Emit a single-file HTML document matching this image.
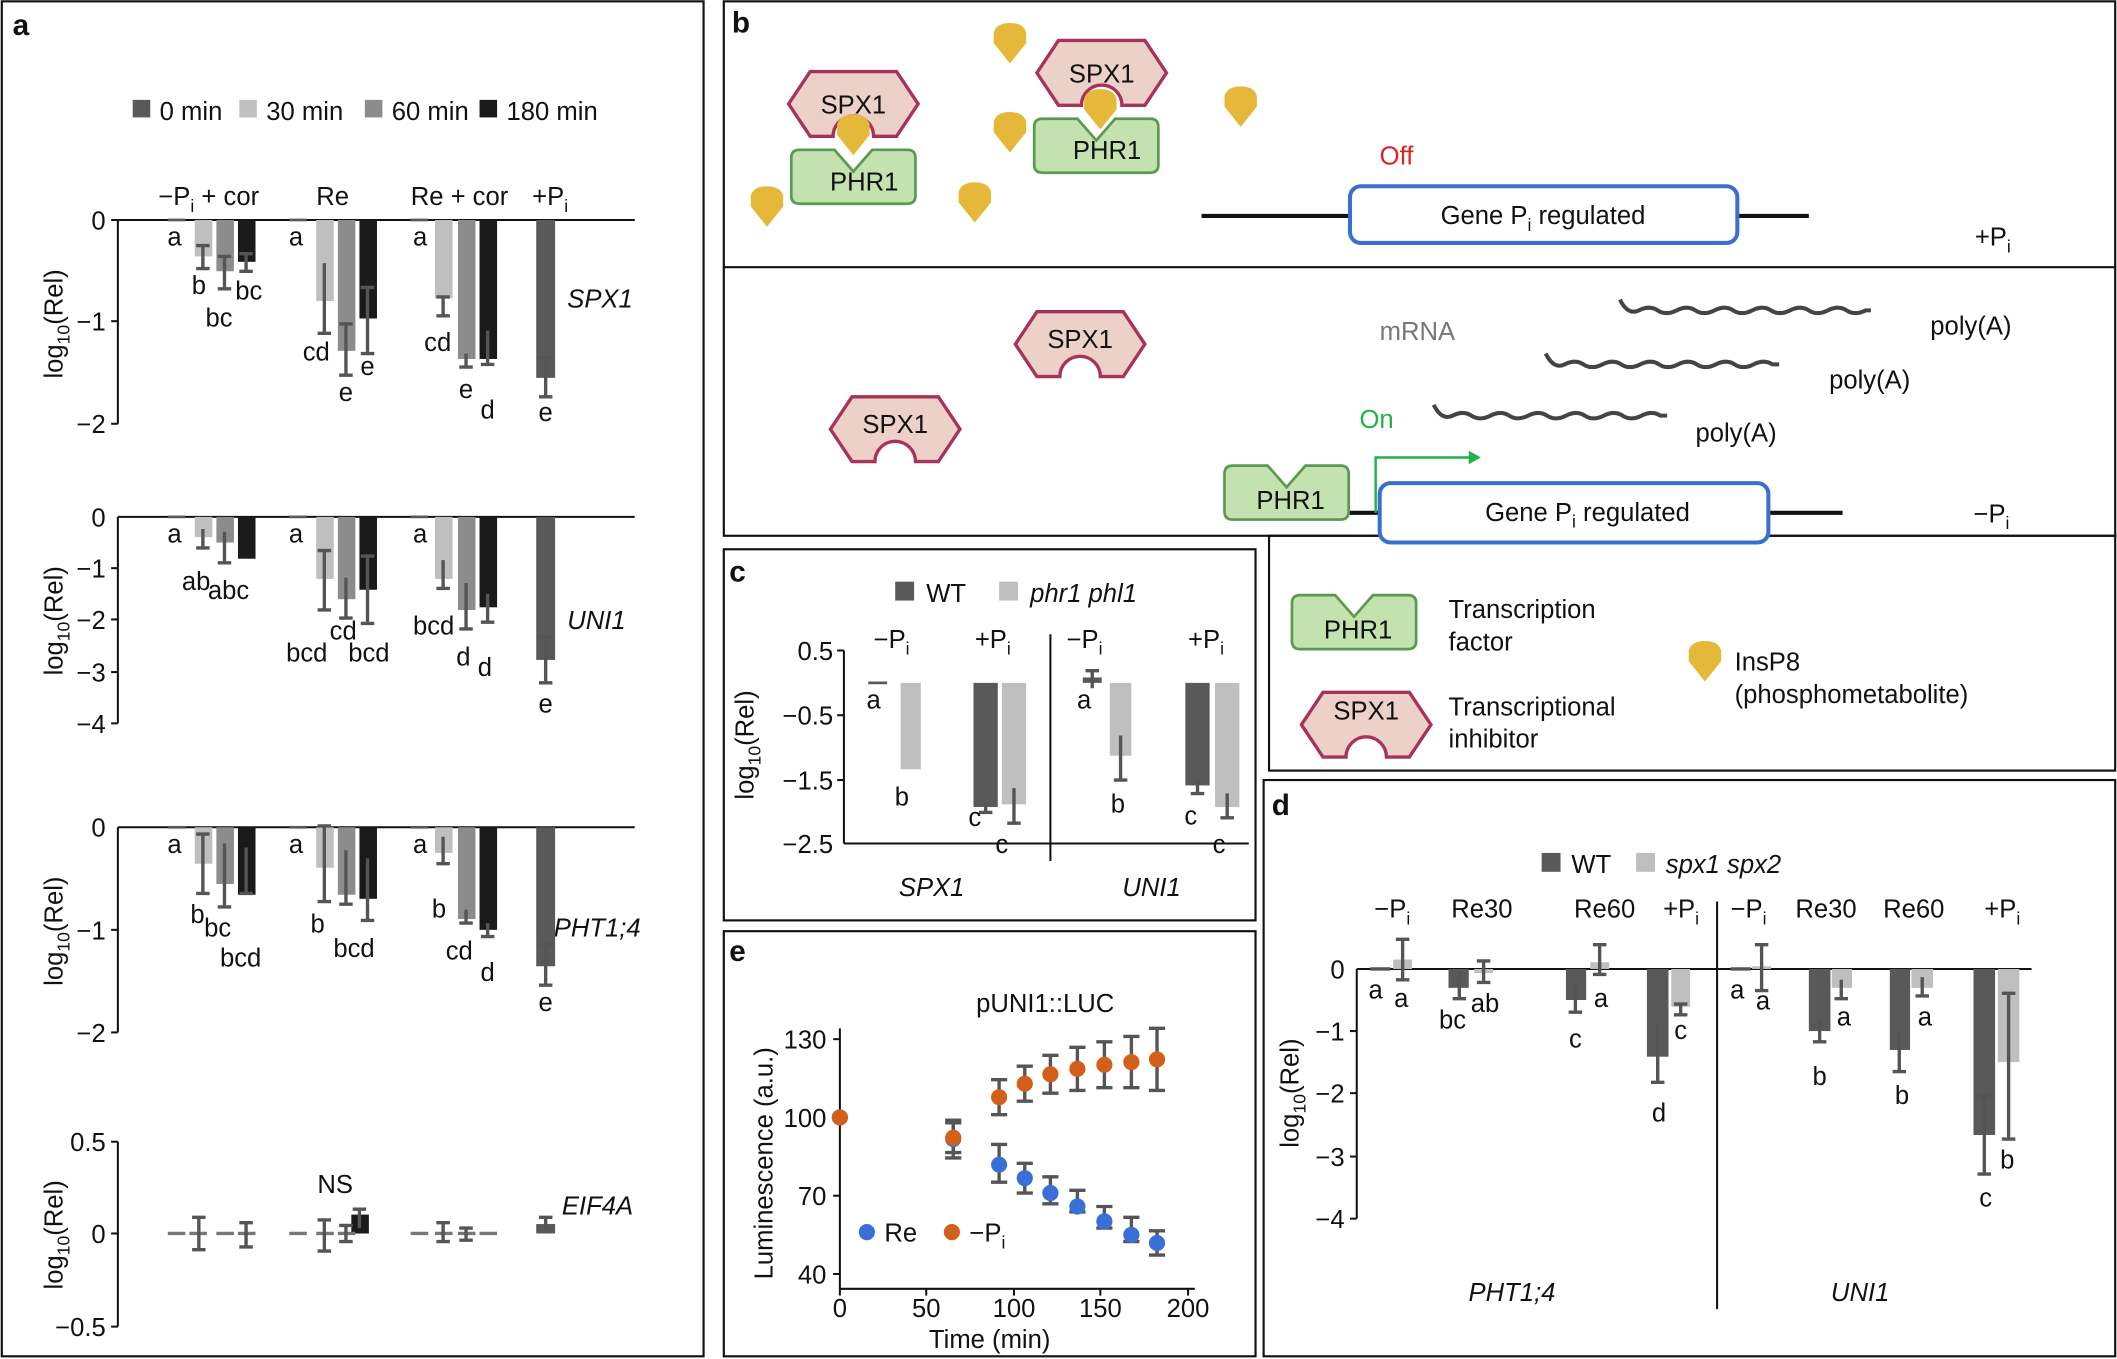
<!DOCTYPE html>
<html><head><meta charset="utf-8"><style>
html,body{margin:0;padding:0;background:#fff}
svg{display:block}
text{font-family:"Liberation Sans",Arial,sans-serif;font-size:19px;fill:#111}
.it{font-style:italic}
.b{font-weight:bold;font-size:22px}
.eb{stroke:#555;stroke-width:2.5;fill:none}
</style></head><body>
<svg width="2117" height="1359" viewBox="0 0 1568 1007" xmlns="http://www.w3.org/2000/svg">
<defs>
<path id="spx" d="M-48,0 L-32,-24 L32,-24 L48,0 L32,24 L15,24 A15,15 0 0 0 -15,24 L-32,24 Z" fill="#ebd1c7" stroke="#a8325a" stroke-width="2.5"/>
<path id="phr" d="M-46,-14 Q-46,-20 -40,-20 L-14,-20 L0,-4 L14,-20 L40,-20 Q46,-20 46,-14 L46,14 Q46,20 40,20 L-40,20 Q-46,20 -46,14 Z" fill="#c4e2b0" stroke="#5a9a50" stroke-width="2"/>
<path id="ins" d="M-12,-8 Q-10,-15 0,-15 Q10,-15 12,-8 L12,0 L0,15 L-12,0 Z" fill="#e6b83a"/>
</defs>
<g fill="none" stroke="#111" stroke-width="1.6">
<rect x="1" y="1" width="520" height="1004"/>
<rect x="536" y="1" width="1031" height="396"/>
<rect x="940" y="397" width="627" height="174"/>
<rect x="536" y="407" width="394" height="275"/>
<rect x="536" y="690" width="394" height="315"/>
<rect x="936" y="578" width="631" height="427"/>
</g>
<line x1="536" y1="198" x2="1567" y2="198" stroke="#111" stroke-width="1.6"/>
<!-- Panel a -->
<text x="9" y="26" class="b">a</text>
<rect x="98" y="74" width="13" height="13" fill="#595959"/><text x="118" y="89">0 min</text>
<rect x="177" y="74" width="13" height="13" fill="#bfbfbf"/><text x="197" y="89">30 min</text>
<rect x="270" y="74" width="13" height="13" fill="#8c8c8c"/><text x="290" y="89">60 min</text>
<rect x="355" y="74" width="13" height="13" fill="#1a1a1a"/><text x="375" y="89">180 min</text>
<text x="117" y="152">−P<tspan font-size="13" dy="5">i</tspan><tspan dy="-5"> + cor</tspan></text>
<text x="234" y="152">Re</text><text x="304" y="152">Re + cor</text>
<text x="394" y="152">+P<tspan font-size="13" dy="5">i</tspan></text>
<g stroke="#111" stroke-width="1.5">
<line x1="87" y1="163" x2="470" y2="163"/><line x1="87" y1="163" x2="87" y2="314"/>
<line x1="87" y1="383" x2="470" y2="383"/><line x1="87" y1="383" x2="87" y2="536"/>
<line x1="87" y1="613" x2="470" y2="613"/><line x1="87" y1="613" x2="87" y2="765"/>
<line x1="87" y1="846" x2="87" y2="983"/>
<line x1="82" y1="163" x2="87" y2="163"/><line x1="82" y1="238" x2="87" y2="238"/><line x1="82" y1="314" x2="87" y2="314"/>
<line x1="82" y1="421" x2="87" y2="421"/><line x1="82" y1="459" x2="87" y2="459"/><line x1="82" y1="498" x2="87" y2="498"/><line x1="82" y1="536" x2="87" y2="536"/>
<line x1="82" y1="689" x2="87" y2="689"/><line x1="82" y1="765" x2="87" y2="765"/>
<line x1="82" y1="846" x2="87" y2="846"/><line x1="82" y1="914" x2="87" y2="914"/><line x1="82" y1="983" x2="87" y2="983"/>
</g>
<g text-anchor="end">
<text x="78" y="170">0</text><text x="78" y="245">−1</text><text x="78" y="321">−2</text>
<text x="78" y="390">0</text><text x="78" y="428">−1</text><text x="78" y="466">−2</text><text x="78" y="505">−3</text><text x="78" y="543">−4</text>
<text x="78" y="620">0</text><text x="78" y="696">−1</text><text x="78" y="772">−2</text>
<text x="78" y="853">0.5</text><text x="78" y="921">0</text><text x="78" y="990">−0.5</text>
</g>
<text transform="translate(46,240) rotate(-90)" text-anchor="middle">log<tspan font-size="13" dy="5">10</tspan><tspan dy="-5">(Rel)</tspan></text>
<text transform="translate(46,460) rotate(-90)" text-anchor="middle">log<tspan font-size="13" dy="5">10</tspan><tspan dy="-5">(Rel)</tspan></text>
<text transform="translate(46,690) rotate(-90)" text-anchor="middle">log<tspan font-size="13" dy="5">10</tspan><tspan dy="-5">(Rel)</tspan></text>
<text transform="translate(46,915) rotate(-90)" text-anchor="middle">log<tspan font-size="13" dy="5">10</tspan><tspan dy="-5">(Rel)</tspan></text>
<text x="420" y="228" class="it">SPX1</text><text x="420" y="466" class="it">UNI1</text>
<text x="410" y="694" class="it">PHT1;4</text><text x="416" y="900" class="it">EIF4A</text>
<!-- SPX1 bars -->
<rect x="124" y="162" width="13" height="2" fill="#595959"/>
<rect x="144" y="163" width="13" height="27" fill="#bfbfbf"/><rect x="160" y="163" width="13" height="38" fill="#8c8c8c"/><rect x="176" y="163" width="13" height="31" fill="#1a1a1a"/>
<rect x="214" y="162" width="13" height="2" fill="#595959"/>
<rect x="234" y="163" width="13" height="60" fill="#bfbfbf"/><rect x="250" y="163" width="13" height="97" fill="#8c8c8c"/><rect x="266" y="163" width="13" height="73" fill="#1a1a1a"/>
<rect x="304" y="162" width="13" height="2" fill="#595959"/>
<rect x="322" y="163" width="13" height="58" fill="#bfbfbf"/><rect x="339" y="163" width="13" height="103" fill="#8c8c8c"/><rect x="355" y="163" width="13" height="103" fill="#1a1a1a"/>
<rect x="397" y="163" width="14" height="117" fill="#595959"/>
<path class="eb" d="M150,182V199M145,182h10M145,199h10 M166,190V214M161,190h10M161,214h10 M182,188V201M177,188h10M177,201h10 M240,195V247M235,247h10 M256,240V278M251,278h10M251,240h10 M272,213V262M267,262h10M267,213h10 M328,220V234M323,234h10M323,220h10 M345,262V272M340,272h10 M361,245V270M356,270h10 M404,265V294M399,294h10M399,265h10"/>
<g text-anchor="middle"><text x="129" y="182">a</text><text x="147" y="218">b</text><text x="162" y="242">bc</text><text x="184" y="222">bc</text>
<text x="219" y="182">a</text><text x="234" y="267">cd</text><text x="256" y="297">e</text><text x="272" y="278">e</text>
<text x="311" y="182">a</text><text x="324" y="260">cd</text><text x="345" y="295">e</text><text x="361" y="310">d</text><text x="404" y="312">e</text></g>
<!-- UNI1 bars -->
<rect x="124" y="382" width="13" height="2" fill="#595959"/>
<rect x="144" y="383" width="13" height="15" fill="#bfbfbf"/><rect x="160" y="383" width="13" height="19" fill="#8c8c8c"/><rect x="176" y="383" width="13" height="31" fill="#1a1a1a"/>
<rect x="214" y="382" width="13" height="2" fill="#595959"/>
<rect x="234" y="383" width="13" height="46" fill="#bfbfbf"/><rect x="250" y="383" width="13" height="61" fill="#8c8c8c"/><rect x="266" y="383" width="13" height="54" fill="#1a1a1a"/>
<rect x="304" y="382" width="13" height="2" fill="#595959"/>
<rect x="322" y="383" width="13" height="46" fill="#bfbfbf"/><rect x="339" y="383" width="13" height="69" fill="#8c8c8c"/><rect x="355" y="383" width="13" height="67" fill="#1a1a1a"/>
<rect x="397" y="383" width="14" height="106" fill="#595959"/>
<path class="eb" d="M150,392V406M145,406h10 M166,394V417M161,417h10 M240,408V452M235,452h10M235,408h10 M256,428V458M251,458h10 M272,412V462M267,462h10M267,412h10 M328,415V436M323,436h10 M345,432V466M340,466h10 M361,440V461M356,461h10 M404,472V506M399,506h10M399,472h10"/>
<g text-anchor="middle"><text x="129" y="402">a</text><text x="145" y="437">ab</text><text x="169" y="444">abc</text>
<text x="219" y="402">a</text><text x="227" y="490">bcd</text><text x="254" y="474">cd</text><text x="273" y="490">bcd</text>
<text x="311" y="402">a</text><text x="321" y="470">bcd</text><text x="343" y="493">d</text><text x="359" y="501">d</text><text x="404" y="528">e</text></g>
<!-- PHT1;4 bars -->
<rect x="124" y="612" width="13" height="2" fill="#595959"/>
<rect x="144" y="613" width="13" height="27" fill="#bfbfbf"/><rect x="160" y="613" width="13" height="42" fill="#8c8c8c"/><rect x="176" y="613" width="13" height="50" fill="#1a1a1a"/>
<rect x="214" y="612" width="13" height="2" fill="#595959"/>
<rect x="234" y="613" width="13" height="30" fill="#bfbfbf"/><rect x="250" y="613" width="13" height="50" fill="#8c8c8c"/><rect x="266" y="613" width="13" height="53" fill="#1a1a1a"/>
<rect x="304" y="612" width="13" height="2" fill="#595959"/>
<rect x="322" y="613" width="13" height="19" fill="#bfbfbf"/><rect x="339" y="613" width="13" height="68" fill="#8c8c8c"/><rect x="355" y="613" width="13" height="76" fill="#1a1a1a"/>
<rect x="397" y="613" width="14" height="103" fill="#595959"/>
<path class="eb" d="M150,618V662M145,662h10M145,618h10 M166,625V672M161,672h10 M182,628V662M177,662h10 M240,612V668M235,668h10M235,612h10 M256,630V670M251,670h10 M272,636V682M267,682h10 M328,620V640M323,640h10 M345,674V684M340,684h10 M361,684V694M356,694h10 M404,700V730M399,730h10M399,700h10"/>
<g text-anchor="middle"><text x="129" y="632">a</text><text x="146" y="684">b</text><text x="161" y="694">bc</text><text x="178" y="716">bcd</text>
<text x="219" y="632">a</text><text x="235" y="691">b</text><text x="262" y="709">bcd</text>
<text x="311" y="632">a</text><text x="325" y="680">b</text><text x="340" y="711">cd</text><text x="361" y="727">d</text><text x="404" y="749">e</text></g>
<!-- EIF4A -->
<text x="248" y="884" text-anchor="middle">NS</text>
<rect x="260" y="900" width="13" height="14" fill="#1a1a1a"/>
<rect x="397" y="907" width="14" height="7" fill="#595959"/>
<g stroke="#555" stroke-width="2.5">
<path d="M124,914h13 M140,914h13 M160,914h13 M176,914h13 M214,914h13 M234,914h13 M250,914h13 M304,914h13 M322,914h13 M339,914h13 M355,914h13" stroke="#777"/>
<path class="eb" d="M147,902V926M142,902h10M142,926h10 M182,906V924M177,906h10M177,924h10 M240,904V927M235,904h10M235,927h10 M256,908V920M251,908h10M251,920h10 M266,896V910M261,896h10 M328,906V920M323,906h10M323,920h10 M345,910V919M340,910h10M340,919h10 M404,902V912M399,902h10"/>
</g>
<!-- Panel b -->
<text x="542" y="24" class="b">b</text>
<use href="#spx" x="632" y="77"/><text x="632" y="84" text-anchor="middle">SPX1</text>
<use href="#phr" x="632" y="131"/><text x="640" y="141" text-anchor="middle">PHR1</text>
<use href="#ins" x="632" y="100"/>
<use href="#spx" x="816" y="54"/><text x="816" y="61" text-anchor="middle">SPX1</text>
<use href="#phr" x="812" y="108"/><text x="820" y="118" text-anchor="middle">PHR1</text>
<use href="#ins" x="815" y="81"/>
<use href="#ins" x="748" y="32"/><use href="#ins" x="748" y="98"/><use href="#ins" x="722" y="150"/><use href="#ins" x="568" y="153"/><use href="#ins" x="919" y="79"/>
<line x1="890" y1="160" x2="1340" y2="160" stroke="#111" stroke-width="3"/>
<rect x="1000" y="138" width="287" height="42" rx="8" fill="#fff" stroke="#3a6fd0" stroke-width="3"/>
<text x="1143" y="166" text-anchor="middle">Gene P<tspan font-size="13" dy="5">i</tspan><tspan dy="-5"> regulated</tspan></text>
<text x="1022" y="122" fill="#e02020" style="fill:#e02020">Off</text>
<text x="1463" y="182">+P<tspan font-size="13" dy="5">i</tspan></text>
<use href="#spx" x="800" y="255"/><text x="800" y="258" text-anchor="middle">SPX1</text>
<use href="#spx" x="663" y="318"/><text x="663" y="321" text-anchor="middle">SPX1</text>
<line x1="910" y1="380" x2="1365" y2="380" stroke="#111" stroke-width="3"/>
<use href="#phr" x="953" y="365"/><text x="956" y="377" text-anchor="middle">PHR1</text>
<rect x="1022" y="358" width="288" height="44" rx="8" fill="#fff" stroke="#3a6fd0" stroke-width="3"/>
<text x="1176" y="386" text-anchor="middle">Gene P<tspan font-size="13" dy="5">i</tspan><tspan dy="-5"> regulated</tspan></text>
<path d="M1019,380V339H1090" fill="none" stroke="#22b04a" stroke-width="1.8"/><path d="M1097,339l-9,-5v10z" fill="#22b04a"/>
<text x="1007" y="317" style="fill:#22b04a">On</text>
<text x="1022" y="252" style="fill:#777">mRNA</text>
<g fill="none" stroke="#444" stroke-width="3">
<path d="M1200,222 q6,12 14,8 t14,0 t14,0 t14,0 t14,0 t14,0 t14,0 t14,0 t14,0 t14,0 t14,0 t14,0 t14,0 h4"/>
<path d="M1145,262 q6,12 14,8 t14,0 t14,0 t14,0 t14,0 t14,0 t14,0 t14,0 t14,0 t14,0 t14,0 t14,0 h5"/>
<path d="M1062,300 q6,12 14,8 t14,0 t14,0 t14,0 t14,0 t14,0 t14,0 t14,0 t14,0 t14,0 t14,0 t14,0 h5"/>
</g>
<text x="1430" y="248">poly(A)</text><text x="1355" y="288">poly(A)</text><text x="1256" y="327">poly(A)</text>
<text x="1462" y="387">−P<tspan font-size="13" dy="5">i</tspan></text>
<use href="#phr" x="1003" y="461"/><text x="1006" y="473" text-anchor="middle">PHR1</text>
<text x="1073" y="458">Transcription</text><text x="1073" y="482">factor</text>
<use href="#spx" x="1012" y="537"/><text x="1012" y="533" text-anchor="middle">SPX1</text>
<text x="1073" y="530">Transcriptional</text><text x="1073" y="554">inhibitor</text>
<use href="#ins" x="1263" y="490"/>
<text x="1285" y="497">InsP8</text><text x="1285" y="521">(phosphometabolite)</text>
<!-- Panel c -->
<text x="540" y="431" class="b">c</text>
<rect x="663" y="431" width="14" height="14" fill="#595959"/><text x="686" y="446">WT</text>
<rect x="740" y="431" width="14" height="14" fill="#bfbfbf"/><text x="763" y="446" class="it">phr1 phl1</text>
<text x="647" y="480">−P<tspan font-size="13" dy="5">i</tspan></text><text x="722" y="480">+P<tspan font-size="13" dy="5">i</tspan></text>
<text x="790" y="480">−P<tspan font-size="13" dy="5">i</tspan></text><text x="880" y="480">+P<tspan font-size="13" dy="5">i</tspan></text>
<g stroke="#111" stroke-width="1.5"><line x1="625" y1="482" x2="625" y2="625"/><line x1="625" y1="625" x2="925" y2="625"/>
<line x1="620" y1="482" x2="625" y2="482"/><line x1="620" y1="530" x2="625" y2="530"/><line x1="620" y1="578" x2="625" y2="578"/>
<line x1="778" y1="470" x2="778" y2="638"/></g>
<g text-anchor="end"><text x="617" y="489">0.5</text><text x="617" y="537">−0.5</text><text x="617" y="585">−1.5</text><text x="617" y="632">−2.5</text></g>
<text transform="translate(558,552) rotate(-90)" text-anchor="middle">log<tspan font-size="13" dy="5">10</tspan><tspan dy="-5">(Rel)</tspan></text>
<rect x="643" y="505" width="14" height="2" fill="#595959"/>
<rect x="667" y="506" width="15" height="64" fill="#bfbfbf"/>
<rect x="721" y="506" width="18" height="92" fill="#595959"/><rect x="742" y="506" width="18" height="90" fill="#bfbfbf"/>
<rect x="802" y="502" width="14" height="4" fill="#595959"/><rect x="822" y="506" width="16" height="54" fill="#bfbfbf"/>
<rect x="878" y="506" width="18" height="76" fill="#595959"/><rect x="900" y="506" width="18" height="92" fill="#bfbfbf"/>
<path class="eb" d="M730,594V602M725,602h10 M751,584V610M746,610h10 M809,497V510M804,497h10 M830,545V578M825,578h10 M887,578V588M882,588h10 M909,588V606M904,606h10"/>
<g text-anchor="middle"><text x="647" y="525">a</text><text x="668" y="597">b</text><text x="722" y="612">c</text><text x="742" y="632">c</text>
<text x="803" y="525">a</text><text x="828" y="602">b</text><text x="882" y="611">c</text><text x="903" y="632">c</text></g>
<text x="690" y="664" class="it" text-anchor="middle">SPX1</text><text x="853" y="664" class="it" text-anchor="middle">UNI1</text>
<!-- Panel e -->
<text x="540" y="712" class="b">e</text>
<text x="723" y="750">pUNI1::LUC</text>
<g stroke="#111" stroke-width="1.5"><line x1="622" y1="762" x2="622" y2="955"/><line x1="622" y1="955" x2="885" y2="955"/>
<line x1="617" y1="770" x2="622" y2="770"/><line x1="617" y1="828" x2="622" y2="828"/><line x1="617" y1="886" x2="622" y2="886"/><line x1="617" y1="944" x2="622" y2="944"/>
<line x1="622" y1="955" x2="622" y2="960"/><line x1="686" y1="955" x2="686" y2="960"/><line x1="751" y1="955" x2="751" y2="960"/><line x1="815" y1="955" x2="815" y2="960"/><line x1="880" y1="955" x2="880" y2="960"/></g>
<g text-anchor="end"><text x="612" y="777">130</text><text x="612" y="835">100</text><text x="612" y="893">70</text><text x="612" y="951">40</text></g>
<g text-anchor="middle"><text x="622" y="976">0</text><text x="686" y="976">50</text><text x="751" y="976">100</text><text x="815" y="976">150</text><text x="880" y="976">200</text></g>
<text x="733" y="999" text-anchor="middle">Time (min)</text>
<text transform="translate(572,862) rotate(-90)" text-anchor="middle">Luminescence (a.u.)</text>
<path class="eb" d="M706,830V858M700,830h12M700,858h12 M740,848V876M734,848h12M734,876h12 M759,862V884M753,862h12M753,884h12 M778,872V892M772,872h12M772,892h12 M798,882V898M792,882h12M792,898h12 M818,894V910M812,894h12M812,910h12 M838,902V920M832,902h12M832,920h12 M857,912V930M851,912h12M851,930h12"/>
<path class="eb" d="M706,832V854M700,832h12M700,854h12 M740,800V826M734,800h12M734,826h12 M759,790V816M753,790h12M753,816h12 M778,782V810M772,782h12M772,810h12 M798,776V808M792,776h12M792,808h12 M818,772V806M812,772h12M812,806h12 M838,768V806M832,768h12M832,806h12 M857,762V808M851,762h12M851,808h12"/>
<g fill="#3a6fd8"><circle cx="622" cy="828" r="6"/><circle cx="706" cy="844" r="6"/><circle cx="740" cy="863" r="6"/><circle cx="759" cy="873" r="6"/><circle cx="778" cy="884" r="6"/><circle cx="798" cy="894" r="6"/><circle cx="818" cy="905" r="6"/><circle cx="838" cy="915" r="6"/><circle cx="857" cy="921" r="6"/><circle cx="642" cy="913" r="6"/></g>
<g fill="#d2601a"><circle cx="622" cy="828" r="6"/><circle cx="706" cy="843" r="6"/><circle cx="740" cy="813" r="6"/><circle cx="759" cy="803" r="6"/><circle cx="778" cy="796" r="6"/><circle cx="798" cy="792" r="6"/><circle cx="818" cy="789" r="6"/><circle cx="838" cy="787" r="6"/><circle cx="857" cy="785" r="6"/><circle cx="705" cy="913" r="6"/></g>
<text x="655" y="920">Re</text><text x="718" y="920">−P<tspan font-size="13" dy="5">i</tspan></text>
<!-- Panel d -->
<text x="942" y="604" class="b">d</text>
<rect x="1142" y="632" width="14" height="14" fill="#595959"/><text x="1164" y="647">WT</text>
<rect x="1212" y="632" width="14" height="14" fill="#bfbfbf"/><text x="1234" y="647" class="it">spx1 spx2</text>
<text x="1018" y="680">−P<tspan font-size="13" dy="5">i</tspan></text><text x="1075" y="680">Re30</text><text x="1166" y="680">Re60</text><text x="1232" y="680">+P<tspan font-size="13" dy="5">i</tspan></text>
<text x="1282" y="680">−P<tspan font-size="13" dy="5">i</tspan></text><text x="1330" y="680">Re30</text><text x="1395" y="680">Re60</text><text x="1470" y="680">+P<tspan font-size="13" dy="5">i</tspan></text>
<g stroke="#111" stroke-width="1.5"><line x1="1005" y1="718" x2="1005" y2="903"/><line x1="1005" y1="718" x2="1505" y2="718"/>
<line x1="1000" y1="764" x2="1005" y2="764"/><line x1="1000" y1="810" x2="1005" y2="810"/><line x1="1000" y1="857" x2="1005" y2="857"/><line x1="1000" y1="903" x2="1005" y2="903"/>
<line x1="1272" y1="668" x2="1272" y2="970"/></g>
<g text-anchor="end"><text x="996" y="725">0</text><text x="996" y="771">−1</text><text x="996" y="817">−2</text><text x="996" y="864">−3</text><text x="996" y="910">−4</text></g>
<text transform="translate(962,810) rotate(-90)" text-anchor="middle">log<tspan font-size="13" dy="5">10</tspan><tspan dy="-5">(Rel)</tspan></text>
<rect x="1032" y="711" width="14" height="7" fill="#bfbfbf"/>
<rect x="1073" y="718" width="15" height="14" fill="#595959"/><rect x="1092" y="718" width="14" height="3" fill="#bfbfbf"/>
<rect x="1160" y="718" width="15" height="23" fill="#595959"/><rect x="1178" y="713" width="14" height="5" fill="#bfbfbf"/>
<rect x="1220" y="718" width="16" height="65" fill="#595959"/><rect x="1238" y="718" width="14" height="28" fill="#bfbfbf"/>
<rect x="1298" y="716" width="14" height="2" fill="#bfbfbf"/>
<rect x="1340" y="718" width="16" height="46" fill="#595959"/><rect x="1357" y="718" width="15" height="14" fill="#bfbfbf"/>
<rect x="1400" y="718" width="15" height="60" fill="#595959"/><rect x="1416" y="718" width="16" height="14" fill="#bfbfbf"/>
<rect x="1462" y="718" width="16" height="123" fill="#595959"/><rect x="1480" y="718" width="16" height="69" fill="#bfbfbf"/>
<path class="eb" d="M1015,718h15 M1282,718h15 M1039,696V726M1034,696h10M1034,726h10 M1081,720V740M1076,740h10 M1099,712V728M1094,712h10M1094,728h10 M1167,730V750M1162,750h10 M1185,700V722M1180,700h10M1180,722h10 M1228,758V802M1223,802h10 M1245,744V752M1240,752h10M1240,744h10 M1305,700V734M1300,700h10M1300,734h10 M1348,756V772M1343,772h10 M1364,726V740M1359,740h10 M1407,764V794M1402,794h10 M1424,724V738M1419,738h10 M1470,812V870M1465,870h10M1465,812h10 M1488,736V844M1483,844h10M1483,736h10"/>
<g text-anchor="middle"><text x="1019" y="740">a</text><text x="1038" y="746">a</text><text x="1076" y="762">bc</text><text x="1100" y="750">ab</text>
<text x="1167" y="776">c</text><text x="1186" y="746">a</text><text x="1229" y="831">d</text><text x="1245" y="770">c</text>
<text x="1287" y="740">a</text><text x="1306" y="748">a</text><text x="1348" y="804">b</text><text x="1366" y="760">a</text>
<text x="1409" y="818">b</text><text x="1426" y="760">a</text><text x="1471" y="894">c</text><text x="1487" y="866">b</text></g>
<text x="1120" y="964" class="it" text-anchor="middle">PHT1;4</text><text x="1378" y="964" class="it" text-anchor="middle">UNI1</text>
</svg>
</body></html>
